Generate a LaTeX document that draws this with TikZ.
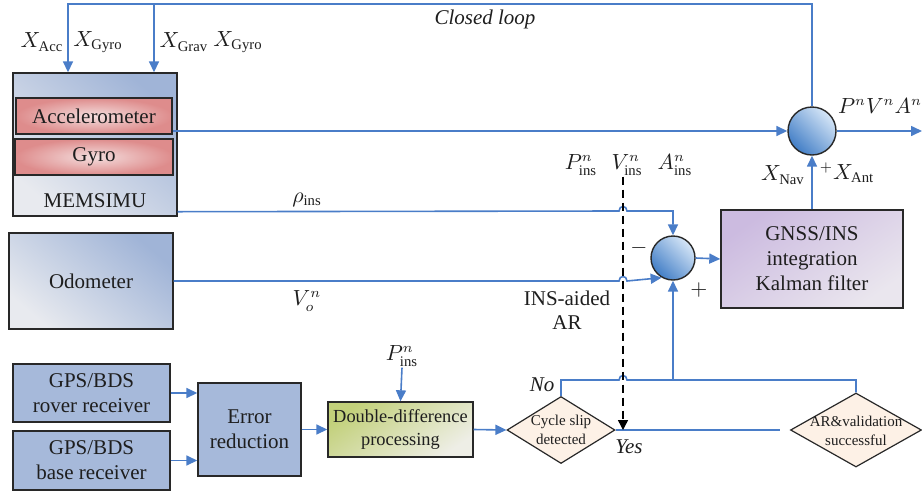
\documentclass[tikz,border=0pt]{standalone}
\usepackage{fontspec}
\setmainfont{Liberation Serif}
\usetikzlibrary{arrows.meta,shapes.geometric}
\definecolor{lc}{RGB}{74,125,200}
\definecolor{bd}{RGB}{40,40,40}
\definecolor{tx}{RGB}{30,30,30}
\definecolor{flatblue}{RGB}{166,185,218}
\definecolor{bluedark}{RGB}{160,180,215}
\definecolor{bluelight}{RGB}{232,234,239}
\definecolor{pinkout}{RGB}{222,140,140}
\definecolor{pinkin}{RGB}{244,222,222}
\definecolor{ddtop}{RGB}{194,208,122}
\definecolor{ddbot}{RGB}{238,238,230}
\definecolor{kftop}{RGB}{204,187,224}
\definecolor{kfbot}{RGB}{234,230,238}
\definecolor{sumlight}{RGB}{214,230,247}
\definecolor{sumdark}{RGB}{66,126,198}
\definecolor{dfill}{RGB}{253,241,230}
\begin{document}
\begin{tikzpicture}[x=0.5pt,y=-0.5pt,
  txt/.style={text=tx, font=\fontsize{10.5}{12.5}\selectfont, inner sep=0.5pt},
  box/.style={draw=bd, line width=0.7pt, inner sep=0pt, align=center, text=tx, font=\fontsize{10.5}{12.5}\selectfont},
  ln/.style={draw=lc, line width=0.8pt},
  arr/.style={-{Triangle[length=5.5pt,width=5pt]}},
  sum/.style={circle, draw=bd, line width=0.7pt, inner sep=0pt, top color=sumlight, bottom color=sumdark, shading angle=-45},
  dia/.style={diamond, draw=bd, line width=0.6pt, inner sep=0pt, fill=dfill},
  diatxt/.style={text=tx, align=center, font=\fontsize{7.5}{9.5}\selectfont, inner sep=0pt}
]
\useasboundingbox (0,0) rectangle (922,494);

% boxes
\node[box, minimum width=82pt, minimum height=71.5pt, top color=bluedark, bottom color=bluelight, shading angle=-40] (mems) at (95,144.5) {};
\node[box, minimum width=78pt, minimum height=18pt, inner color=pinkin, outer color=pinkout] (acc) at (94,116) {Accelerometer};
\node[box, minimum width=79pt, minimum height=18pt, inner color=pinkin, outer color=pinkout] (gyro) at (94,157) {Gyro};
\node[txt] (memslbl) at (95,201) {MEMSIMU};
\node[box, minimum width=82pt, minimum height=48pt, top color=bluedark, bottom color=bluelight, shading angle=-40] (odo) at (91,281) {Odometer};
\node[box, minimum width=78.5pt, minimum height=29pt, fill=flatblue] (rov) at (91.5,393) {GPS/BDS\\rover receiver};
\node[box, minimum width=78.5pt, minimum height=29.5pt, fill=flatblue] (base) at (91.5,460.5) {GPS/BDS\\base receiver};
\node[box, minimum width=51.5pt, minimum height=46.5pt, fill=flatblue] (err) at (249.5,429.5) {Error\\reduction};
\node[box, minimum width=72.5pt, minimum height=27.5pt, top color=ddtop, bottom color=ddbot, shading angle=35, font=\fontsize{9.2}{11.5}\selectfont] (dd) at (400.5,429.5) {Double-difference\\processing};
\node[box, minimum width=91pt, minimum height=49pt, top color=kftop, bottom color=kfbot, shading angle=35] (kf) at (812,259) {GNSS/INS\\integration\\Kalman filter};
\node[dia, minimum width=54pt, minimum height=33.5pt] (cs) at (561,430) {};
\node[diatxt] (cstxt) at (561,430) {Cycle slip\\detected};
\node[dia, minimum width=65.5pt, minimum height=37pt] (ar) at (856,430) {};
\node[diatxt] (artxt) at (856,431) {AR\&validation\\successful};
\node[sum, minimum size=24pt] (s1) at (812,131) {};
\node[sum, minimum size=22pt] (s2) at (673,258) {};

% labels
\node[txt] (xacc) at (42,42) {$X_{\mathrm{Acc}}$};
\node[txt] (xgyro1) at (98,42) {$X_{\mathrm{Gyro}}$};
\node[txt] (xgrav) at (184,42) {$X_{\mathrm{Grav}}$};
\node[txt] (xgyro2) at (238,42) {$X_{\mathrm{Gyro}}$};
\node[txt, font=\fontsize{10.5}{12.5}\selectfont\itshape] (cl) at (485,19) {Closed loop};
\node[txt] (pva) at (880,106) {$P^{n}V^{n}A^{n}$};
\node[txt] (xnav) at (783,175) {$X_{\mathrm{Nav}}$};
\node[txt] (xant) at (847,173) {${}^{+}X_{\mathrm{Ant}}$};
\node[txt] (pins) at (581,165) {$P^{n}_{\mathrm{ins}}$};
\node[txt] (vins) at (627,165) {$V^{n}_{\mathrm{ins}}$};
\node[txt] (ains) at (675,165) {$A^{n}_{\mathrm{ins}}$};
\node[txt] (rho) at (307,200) {$\rho_{\mathrm{ins}}$};
\node[txt] (vo) at (307,301) {$V^{n}_{o}$};
\node[txt, align=center, font=\fontsize{10.5}{12}\selectfont] (insar) at (567,310) {INS-aided\\AR};
\node[txt] (minus) at (639,248) {$-$};
\node[txt] (plus) at (699,290) {$+$};
\node[txt] (pdd) at (402,356) {$P^{n}_{\mathrm{ins}}$};
\node[txt, font=\fontsize{10.5}{12.5}\selectfont\itshape] (no) at (542,385) {No};
\node[txt, font=\fontsize{10.5}{12.5}\selectfont\itshape] (yes) at (629,447) {Yes};

% coordinates
\coordinate (tl) at (68,4);
\coordinate (tm) at (154,4);
\coordinate (outp) at (922,131);
\coordinate (jn) at (673,380);

% closed loop
\draw[ln, arr] (s1.north) |- (tl) -- (tl |- mems.north);
\draw[ln, arr] (tm) -- (tm |- mems.north);
% accelerometer to sum 1
\draw[ln, arr] (acc.east |- s1.west) -- (s1.west);
\draw[ln, arr] (s1.east) -- (outp);
\draw[ln, arr] (kf.north) -- (s1.south);
% rho line with hop
\draw[ln, arr] ([yshift=2.5pt]mems.south east) -- (619,211) .. controls (619,205) and (627,205) .. (627,211) -- (673,211) -- (s2.north);
% odometer line with hop
\draw[ln, arr] (odo.east) -- (619,281) .. controls (619,275) and (627,275) .. (627,281) -- (s2.240);
\draw[ln, arr] (s2.east) -- (kf.west);
% bottom chain
\draw[ln, arr] (rov.east) -- (rov.east -| err.west);
\draw[ln, arr] (base.east) -- (base.east -| err.west);
\draw[ln, arr] (err.east) -- (dd.west);
\draw[ln, arr] (pdd.south) -- (dd.north);
\draw[ln, arr] (dd.east) -- (cs.west);
% No branch
\draw[ln] (cs.north) -- (561,380) -- (619,380) .. controls (619,374) and (627,374) .. (627,380) -- (856,380) -- (ar.north);
\draw[ln, arr] (jn) -- (s2.south);
% Yes line
\draw[ln, shorten >=5pt] (cs.east) -- (ar.west);
% dashed INS aid
\draw[black, line width=0.7pt, dash pattern=on 4pt off 2.5pt, -{Triangle[length=5pt,width=5pt]}] ([xshift=-2pt]vins.south) -- ([xshift=-2pt]vins.south |- cs.east);
\end{tikzpicture}
\end{document}
